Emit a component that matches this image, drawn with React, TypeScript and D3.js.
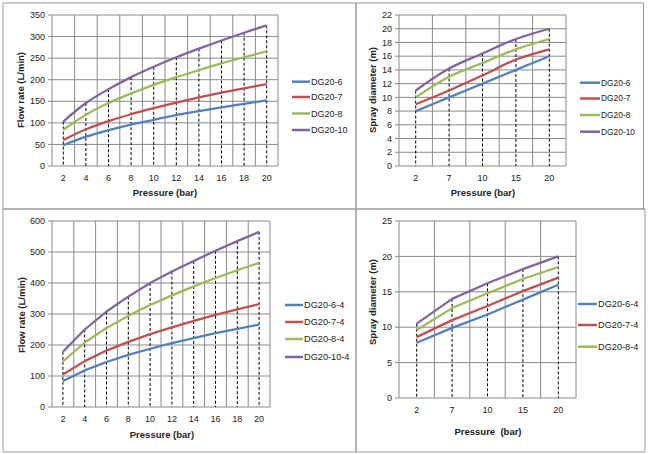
import React from "react";
import * as d3 from "d3";

// ---------- data ----------
const pressureFine = [2, 4, 6, 8, 10, 12, 14, 16, 18, 20];
const pressureCoarse = [2, 7, 10, 15, 20];

const namesTop = ["DG20-6", "DG20-7", "DG20-8", "DG20-10"];
const namesBottom = ["DG20-6-4", "DG20-7-4", "DG20-8-4", "DG20-10-4"];

// Flow rate (L/min), DG20 series
const flow6 = [48, 68, 83, 96, 107, 118, 127, 136, 144, 152];
const flow7 = [60, 85, 104, 120, 134, 147, 159, 170, 180, 190];
const flow8 = [84, 119, 146, 168, 188, 206, 222, 238, 252, 266];
const flow10 = [103, 146, 178, 206, 230, 252, 272, 291, 309, 326];

// Spray diameter (m), DG20 series
const spray6 = [8, 10, 12, 14, 16];
const spray7 = [9, 11, 13.2, 15.5, 17];
const spray8 = [10, 13, 15, 17, 18.5];
const spray10 = [11, 14.2, 16.4, 18.5, 20];

// Flow rate (L/min), DG20-x-4 series
const flow6_4 = [84, 118, 145, 168, 188, 206, 222, 238, 252, 266];
const flow7_4 = [105, 148, 182, 210, 235, 257, 278, 297, 315, 332];
const flow8_4 = [147, 208, 255, 294, 329, 360, 389, 416, 441, 465];
const flow10_4 = [178, 250, 308, 356, 400, 437, 471, 504, 535, 565];

// Spray diameter (m), DG20-x-4 series
const spray6_4 = [7.8, 9.9, 11.8, 13.9, 16];
const spray7_4 = [8.6, 11, 13, 15.1, 17];
const spray8_4 = [9.6, 12.7, 14.8, 16.8, 18.5];
const spray10_4 = [10.5, 14, 16.2, 18.2, 20];

const colors = ["#4F81BD", "#C0504D", "#9BBB59", "#8064A2"];

const FONT = "'Liberation Sans', Arial, sans-serif";
const GRID = "#8a8a8a";

type ChartProps = {
  x0: number; x1: number; y0: number; y1: number;
  cats: number[];
  series: number[][];
  names: string[];
  legendCount: number;
  yMax: number; yStep: number;
  yTitle: string; yTitlePos: [number, number];
  xTitle: string; xTitlePos: [number, number];
  legendX: number; legendLen: number; legendRows: number[]; legendFont: number;
  smooth: boolean;
};

function Chart(p: ChartProps) {
  const x = d3.scaleBand<number>().domain(p.cats).range([p.x0, p.x1]).padding(0);
  const cx = (c: number) => (x(c) as number) + x.bandwidth() / 2;
  const y = d3.scaleLinear().domain([0, p.yMax]).range([p.y1, p.y0]);
  const yTicks = d3.range(0, p.yMax + p.yStep / 2, p.yStep);
  const line = d3
    .line<number>()
    .x((_, i) => cx(p.cats[i]))
    .y((v) => y(v))
    .curve(p.smooth ? d3.curveCatmullRom.alpha(0.5) : d3.curveLinear);
  const tops = p.cats.map((_, i) => d3.max(p.series, (s) => s[i]) as number);
  const bounds = p.cats.map((c) => (x(c) as number) + x.bandwidth());
  return (
    <g fontFamily={FONT}>
      {yTicks.map((t) => (
        <line key={"h" + t} x1={p.x0} x2={p.x1} y1={y(t)} y2={y(t)} stroke={GRID} strokeWidth={1} />
      ))}
      {bounds.map((b, i) => (
        <line key={"v" + i} x1={b} x2={b} y1={p.y0} y2={p.y1} stroke={GRID} strokeWidth={1} />
      ))}
      <line x1={p.x0} x2={p.x0} y1={p.y0} y2={p.y1} stroke={GRID} strokeWidth={1} />
      {yTicks.map((t) => (
        <g key={"yt" + t}>
          <line x1={p.x0 - 4} x2={p.x0} y1={y(t)} y2={y(t)} stroke={GRID} />
          <text x={p.x0 - 7} y={y(t)} dy="0.35em" textAnchor="end" fontSize={9} fill="#222">
            {t}
          </text>
        </g>
      ))}
      {p.cats.map((c) => (
        <text key={"xt" + c} x={cx(c)} y={p.y1 + 12} dy="0.35em" textAnchor="middle" fontSize={9} fill="#222">
          {c}
        </text>
      ))}
      {p.cats.map((c, i) => (
        <line key={"d" + c} x1={cx(c)} x2={cx(c)} y1={y(tops[i])} y2={p.y1} stroke="#000" strokeWidth={1} strokeDasharray="3,2" />
      ))}
      {p.series.map((s, i) => (
        <path key={"s" + i} d={line(s) as string} fill="none" stroke={colors[i]} strokeWidth={2.25} strokeLinejoin="round" />
      ))}
      <text
        transform={`translate(${p.yTitlePos[0]},${p.yTitlePos[1]}) rotate(-90)`}
        textAnchor="middle"
        dy="0.35em"
        fontSize={9.5}
        fontWeight="bold"
        fill="#222"
      >
        {p.yTitle}
      </text>
      <text
        x={p.xTitlePos[0]}
        y={p.xTitlePos[1]}
        textAnchor="middle"
        dy="0.35em"
        fontSize={9.5}
        fontWeight="bold"
        fill="#222"
        style={{ whiteSpace: "pre" }}
      >
        {p.xTitle}
      </text>
      {p.names.slice(0, p.legendCount).map((n, i) => (
        <g key={"l" + n}>
          <line x1={p.legendX} x2={p.legendX + p.legendLen} y1={p.legendRows[i]} y2={p.legendRows[i]} stroke={colors[i]} strokeWidth={2.5} />
          <text x={p.legendX + p.legendLen + 1} y={p.legendRows[i]} dy="0.35em" fontSize={p.legendFont} fill="#222">
            {n}
          </text>
        </g>
      ))}
    </g>
  );
}

export default function App() {
  const border = "#9a9a9a";
  return (
    <svg width={650} height={454} style={{ position: "absolute", left: 0, top: 0, background: "#fff" }}>
      <rect x={0} y={0} width={650} height={454} fill="#fff" />
      <line x1={3} x2={644} y1={3} y2={3} stroke={border} />
      <line x1={3} x2={645} y1={209} y2={209} stroke={border} strokeWidth={1.5} />
      <line x1={3} x2={645} y1={452} y2={452} stroke={border} />
      <line x1={3} x2={3} y1={3} y2={452} stroke={border} />
      <line x1={356} x2={356} y1={3} y2={452} stroke={border} strokeWidth={1.5} />
      <line x1={643.5} x2={643.5} y1={3} y2={209} stroke={border} />
      <line x1={645} x2={645} y1={209} y2={452} stroke={border} />

      <Chart
        x0={52} x1={278} y0={15} y1={166}
        cats={pressureFine}
        series={[flow6, flow7, flow8, flow10]}
        names={namesTop} legendCount={4}
        yMax={350} yStep={50}
        yTitle="Flow rate (L/min)" yTitlePos={[21, 90]}
        xTitle="Pressure (bar)" xTitlePos={[165, 193]}
        legendX={292} legendLen={18} legendRows={[81.7, 97, 113.5, 130]} legendFont={9}
        smooth={true}
      />
      <Chart
        x0={399} x1={566} y0={15} y1={166}
        cats={pressureCoarse}
        series={[spray6, spray7, spray8, spray10]}
        names={namesTop} legendCount={4}
        yMax={22} yStep={2}
        yTitle="Spray diameter (m)" yTitlePos={[373, 90]}
        xTitle="Pressure (bar)" xTitlePos={[483, 193]}
        legendX={580} legendLen={20} legendRows={[82.7, 98.5, 115, 131.7]} legendFont={8.4}
        smooth={true}
      />
      <Chart
        x0={52} x1={270} y0={221} y1={407}
        cats={pressureFine}
        series={[flow6_4, flow7_4, flow8_4, flow10_4]}
        names={namesBottom} legendCount={4}
        yMax={600} yStep={100}
        yTitle="Flow rate (L/min)" yTitlePos={[22, 315]}
        xTitle="Pressure (bar)" xTitlePos={[162, 435]}
        legendX={285} legendLen={18} legendRows={[305, 322, 339, 357]} legendFont={9.2}
        smooth={false}
      />
      <Chart
        x0={399} x1={576} y0={221} y1={398}
        cats={pressureCoarse}
        series={[spray6_4, spray7_4, spray8_4, spray10_4]}
        names={namesBottom} legendCount={3}
        yMax={25} yStep={5}
        yTitle="Spray diameter (m)" yTitlePos={[373, 302]}
        xTitle="Pressure  (bar)" xTitlePos={[488, 432]}
        legendX={578} legendLen={19} legendRows={[304, 325, 346.7]} legendFont={9.2}
        smooth={false}
      />
    </svg>
  );
}
